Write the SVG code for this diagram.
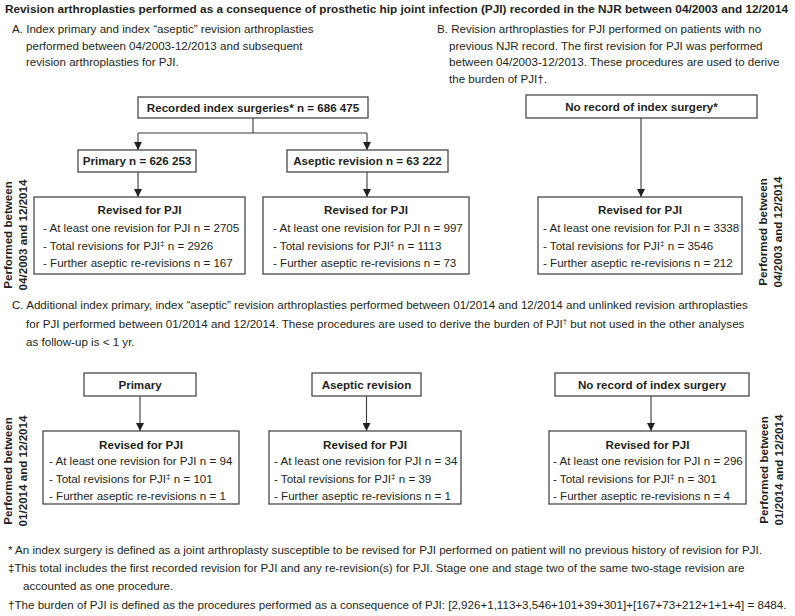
<svg xmlns="http://www.w3.org/2000/svg" width="795" height="616" viewBox="0 0 795 616">
<defs>
<style>
text{font-family:"Liberation Sans",Arial,sans-serif;font-size:11.6px;fill:#231f20}
.b{font-weight:bold}
.m{text-anchor:middle}
.box{fill:#fff;stroke:#3a3a3a;stroke-width:1.2}
.ln{stroke:#3a3a3a;stroke-width:1.1;fill:none}
.sup{font-size:8px}
</style>
<marker id="ah" viewBox="0 0 8 8" refX="8" refY="4" markerWidth="8" markerHeight="8" markerUnits="userSpaceOnUse" orient="auto">
<path d="M0,0 L8,4 L0,8 Z" fill="#231f20"/>
</marker>
</defs>
<rect width="795" height="616" fill="#fff"/>

<text class="b" x="5" y="13" textLength="783" lengthAdjust="spacingAndGlyphs">Revision arthroplasties performed as a consequence of prosthetic hip joint infection (PJI) recorded in the NJR between 04/2003 and 12/2014</text>

<g id="sectionA-text">
<text x="12" y="33">A. Index primary and index “aseptic” revision arthroplasties</text>
<text x="26" y="50">performed between 04/2003-12/2013 and subsequent</text>
<text x="26" y="66">revision arthroplasties for PJI.</text>
</g>
<g id="sectionB-text">
<text x="437" y="33">B. Revision arthroplasties for PJI performed on patients with no</text>
<text x="449" y="50">previous NJR record. The first revision for PJI was performed</text>
<text x="449" y="66">between 04/2003-12/2013. These procedures are used to derive</text>
<text x="449" y="83">the burden of PJI†.</text>
</g>

<g id="connectors">
<path class="ln" d="M253,118 V133 M138,133 H367"/>
<line class="ln" x1="138" y1="133" x2="138" y2="150" marker-end="url(#ah)"/>
<line class="ln" x1="367" y1="133" x2="367" y2="150" marker-end="url(#ah)"/>
<line class="ln" x1="138" y1="172" x2="138" y2="197" marker-end="url(#ah)"/>
<line class="ln" x1="367" y1="172" x2="367" y2="197" marker-end="url(#ah)"/>
<line class="ln" x1="641" y1="118" x2="641" y2="197" marker-end="url(#ah)"/>
<line class="ln" x1="140" y1="396" x2="140" y2="431" marker-end="url(#ah)"/>
<line class="ln" x1="366.5" y1="396" x2="366.5" y2="431" marker-end="url(#ah)"/>
<line class="ln" x1="651" y1="396" x2="651" y2="431" marker-end="url(#ah)"/>
</g>

<g id="recorded-index">
<rect class="box" x="138" y="97" width="230" height="21"/>
<text class="b m" x="253" y="112">Recorded index surgeries* n = 686 475</text>
</g>
<g id="primaryA">
<rect class="box" x="78" y="150" width="118" height="22"/>
<text class="b m" x="137" y="165">Primary n = 626 253</text>
</g>
<g id="asepticA">
<rect class="box" x="287" y="150" width="161" height="22"/>
<text class="b m" x="367.5" y="165">Aseptic revision n = 63 222</text>
</g>
<g id="noRecordB">
<rect class="box" x="526" y="95" width="231" height="23"/>
<text class="b m" x="641.5" y="111">No record of index surgery*</text>
</g>

<g id="revisedA1">
<rect class="box" x="34" y="197" width="211" height="77"/>
<text class="b m" x="139.5" y="214">Revised for PJI</text>
<text x="43" y="232">- At least one revision for PJI n = 2705</text>
<text x="43" y="250">- Total revisions for PJI<tspan class="sup" dy="-4">‡</tspan><tspan dy="4"> n = 2926</tspan></text>
<text x="43" y="267">- Further aseptic re-revisions n = 167</text>
</g>
<g id="revisedA2">
<rect class="box" x="263" y="197" width="206" height="77"/>
<text class="b m" x="366" y="214">Revised for PJI</text>
<text x="273" y="232">- At least one revision for PJI n = 997</text>
<text x="273" y="250">- Total revisions for PJI<tspan class="sup" dy="-4">‡</tspan><tspan dy="4"> n = 1113</tspan></text>
<text x="273" y="267">- Further aseptic re-revisions n = 73</text>
</g>
<g id="revisedB">
<rect class="box" x="538" y="197" width="204" height="77"/>
<text class="b m" x="640" y="214">Revised for PJI</text>
<text x="543" y="232">- At least one revision for PJI n = 3338</text>
<text x="543" y="250">- Total revisions for PJI<tspan class="sup" dy="-4">‡</tspan><tspan dy="4"> n = 3546</tspan></text>
<text x="543" y="267">- Further aseptic re-revisions n = 212</text>
</g>

<g id="labelA-left" transform="translate(0,235) rotate(-90)">
<text class="b m" x="0" y="12">Performed between</text>
<text class="b m" x="0" y="27">04/2003 and 12/2014</text>
</g>
<g id="labelA-right" transform="translate(755,232) rotate(-90)">
<text class="b m" x="0" y="12">Performed between</text>
<text class="b m" x="0" y="27">04/2003 and 12/2014</text>
</g>

<g id="sectionC-text">
<text x="12" y="309">C. Additional index primary, index “aseptic” revision arthroplasties performed between 01/2014 and 12/2014 and unlinked revision arthroplasties</text>
<text x="26" y="328">for PJI performed between 01/2014 and 12/2014. These procedures are used to derive the burden of PJI<tspan class="sup" dy="-4">†</tspan><tspan dy="4"> but not used in the other analyses</tspan></text>
<text x="26" y="346">as follow-up is &lt; 1 yr.</text>
</g>

<g id="primaryC">
<rect class="box" x="84" y="373" width="112" height="23"/>
<text class="b m" x="140" y="389">Primary</text>
</g>
<g id="asepticC">
<rect class="box" x="312" y="373" width="109" height="23"/>
<text class="b m" x="366.5" y="389">Aseptic revision</text>
</g>
<g id="noRecordC">
<rect class="box" x="555" y="373" width="194" height="23"/>
<text class="b m" x="652" y="389">No record of index surgery</text>
</g>

<g id="revisedC1">
<rect class="box" x="43" y="431" width="196" height="73"/>
<text class="b m" x="141" y="449">Revised for PJI</text>
<text x="49" y="465">- At least one revision for PJI n = 94</text>
<text x="49" y="483">- Total revisions for PJI<tspan class="sup" dy="-4">‡</tspan><tspan dy="4"> n = 101</tspan></text>
<text x="49" y="500">- Further aseptic re-revisions n = 1</text>
</g>
<g id="revisedC2">
<rect class="box" x="269" y="431" width="192" height="73"/>
<text class="b m" x="365" y="449">Revised for PJI</text>
<text x="274" y="465">- At least one revision for PJI n = 34</text>
<text x="274" y="483">- Total revisions for PJI<tspan class="sup" dy="-4">‡</tspan><tspan dy="4"> n = 39</tspan></text>
<text x="274" y="500">- Further aseptic re-revisions n = 1</text>
</g>
<g id="revisedC3">
<rect class="box" x="549" y="431" width="197" height="73"/>
<text class="b m" x="647.5" y="449">Revised for PJI</text>
<text x="553" y="465">- At least one revision for PJI n = 296</text>
<text x="553" y="483">- Total revisions for PJI<tspan class="sup" dy="-4">‡</tspan><tspan dy="4"> n = 301</tspan></text>
<text x="553" y="500">- Further aseptic re-revisions n = 4</text>
</g>

<g id="labelC-left" transform="translate(0,471) rotate(-90)">
<text class="b m" x="0" y="12">Performed between</text>
<text class="b m" x="0" y="27">01/2014 and 12/2014</text>
</g>
<g id="labelC-right" transform="translate(756,470) rotate(-90)">
<text class="b m" x="0" y="12">Performed between</text>
<text class="b m" x="0" y="27">01/2014 and 12/2014</text>
</g>

<g id="footnotes">
<text x="8" y="554">* An index surgery is defined as a joint arthroplasty susceptible to be revised for PJI performed on patient will no previous history of revision for PJI.</text>
<text x="8" y="572">‡This total includes the first recorded revision for PJI and any re-revision(s) for PJI. Stage one and stage two of the same two-stage revision are</text>
<text x="23" y="590">accounted as one procedure.</text>
<text x="8" y="609">†The burden of PJI is defined as the procedures performed as a consequence of PJI: [2,926+1,113+3,546+101+39+301]+[167+73+212+1+1+4] = 8484.</text>
</g>
</svg>
